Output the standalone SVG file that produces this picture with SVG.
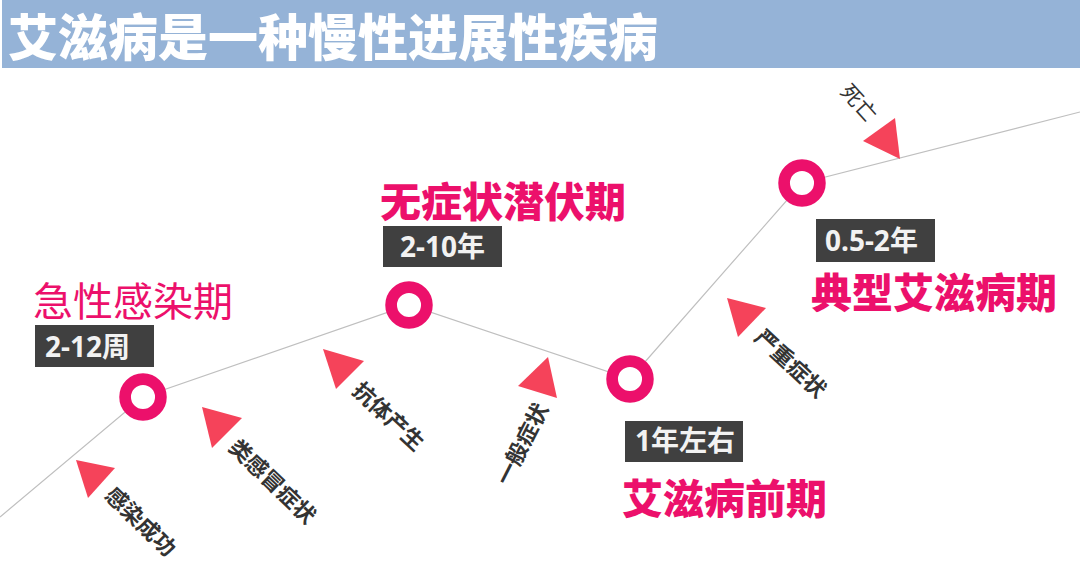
<svg xmlns="http://www.w3.org/2000/svg" width="1080" height="562" viewBox="0 0 1080 562">
<style>
.title{font-family:"Noto Sans CJK SC","Noto Sans",sans-serif;font-weight:900;font-size:50px;fill:#fff}
.phase{font-family:"Noto Sans CJK SC","Noto Sans",sans-serif;font-size:40px;fill:#EC106B}
.b{font-weight:900;font-size:41px}
.box{fill:#404040}
.dur{font-family:"Noto Sans","Noto Sans CJK SC",sans-serif;font-weight:700;font-size:28px;fill:#F2F2F2}
.ring{fill:#fff;stroke:#EC106B;stroke-width:11.7}
.tri{fill:#F5435A}
.lbl{font-family:"Noto Sans CJK SC","Noto Sans",sans-serif;font-weight:700;font-size:22px;fill:#333;text-anchor:middle;dominant-baseline:central}
.death{font-family:"Noto Sans CJK SC",serif;font-weight:400;font-size:21px;fill:#333;text-anchor:middle;dominant-baseline:central}
.conn{fill:none;stroke:#BFBFBF;stroke-width:1.2}
</style>
<rect x="0" y="0" width="1080" height="562" fill="#fff"/>
<g id="header">
<rect x="2" y="0" width="1078" height="68" fill="#95B3D7"/>
<text class="title" x="8" y="56">艾滋病是一种慢性进展性疾病</text>
</g>
<g id="connectors">
<polyline class="conn" points="0,517 143,397 409,305 630,379 802,183 1080,112"/>
</g>
<g id="node-acute">
<circle class="ring" cx="143" cy="397" r="17.9"/>
<text class="phase" x="33" y="316">急性感染期</text>
<rect class="box" x="35" y="325" width="119" height="42"/>
<text class="dur" x="45" y="357">2-12周</text>
</g>
<g id="node-latent">
<circle class="ring" cx="409" cy="305" r="17.9"/>
<text class="phase b" x="380" y="217">无症状潜伏期</text>
<rect class="box" x="383" y="226" width="119" height="41"/>
<text class="dur" x="400" y="257">2-10年</text>
</g>
<g id="node-preaids">
<circle class="ring" cx="630" cy="379" r="17.9"/>
<rect class="box" x="625" y="421" width="118" height="41"/>
<text class="dur" x="635" y="451">1年左右</text>
<text class="phase b" x="622" y="514">艾滋病前期</text>
</g>
<g id="node-aids">
<circle class="ring" cx="802" cy="183" r="17.9"/>
<rect class="box" x="816" y="219" width="119" height="43"/>
<text class="dur" x="825" y="251">0.5-2年</text>
<text class="phase b" x="811" y="308">典型艾滋病期</text>
</g>
<g id="marker-infection">
<polygon class="tri" points="76,460 115,468 88,498"/>
<text class="lbl" transform="translate(142,520) rotate(44)">感染成功</text>
</g>
<g id="marker-flu">
<polygon class="tri" points="202,407 242,418 212,448"/>
<text class="lbl" transform="translate(274,480) rotate(44)">类感冒症状</text>
</g>
<g id="marker-antibody">
<polygon class="tri" points="323,349 364,361 336,389"/>
<text class="lbl" transform="translate(390,415) rotate(43)">抗体产生</text>
</g>
<g id="marker-general">
<polygon class="tri" points="548,357 557,398 518,386"/>
<text class="lbl" transform="translate(520,443) rotate(-63)">一般症状</text>
</g>
<g id="marker-severe">
<polygon class="tri" points="727,298 766,308 738,337"/>
<text class="lbl" transform="translate(792,362) rotate(43)">严重症状</text>
</g>
<g id="marker-death">
<polygon class="tri" points="895,118 900,159 863,141"/>
<text class="death" transform="translate(860,102) rotate(48)">死亡</text>
</g>
</svg>
